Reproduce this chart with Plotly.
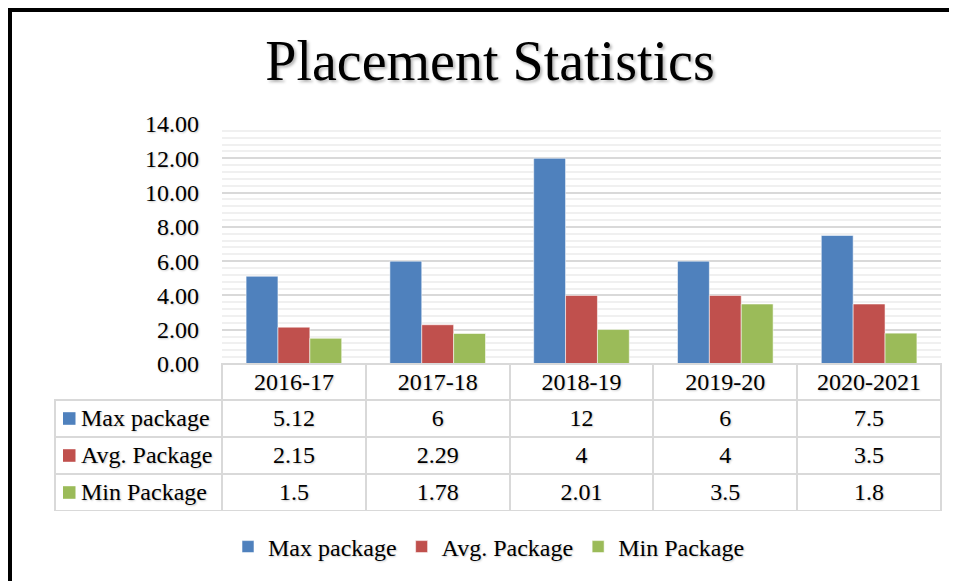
import plotly.graph_objects as go

years = ["2016-17", "2017-18", "2018-19", "2019-20", "2020-2021"]
series_names = ["Max package", "Avg. Package", "Min Package"]
max_package = [5.12, 6, 12, 6, 7.5]
avg_package = [2.15, 2.29, 4, 4, 3.5]
min_package = [1.5, 1.78, 2.01, 3.5, 1.8]
colors = ["#4F81BD", "#C0504D", "#9BBB59"]
y_ticks = [0, 2, 4, 6, 8, 10, 12, 14]

series_values = [max_package, avg_package, min_package]

# The page body adds an 8px margin, so the figure is 8px smaller
W, H = 949, 573
FONT = "Liberation Serif"
SHADOW = "1px 1px 2px rgba(0,0,0,0.22)"
GRID = "#D9D9D9"
CLEAR = "rgba(0,0,0,0)"


def fx(px):
    return px / W


def fy(py):
    return 1 - py / H


# layout boxes in figure pixels
PLOT_X = (214, 933)
PLOT_Y = (116, 356)
TABLE_X = (47, 933)
HEADER_H, ROW_H = 36, 37
TABLE_Y = (356, 356 + HEADER_H + ROW_H * len(series_names))

fig = go.Figure()
for name, vals, col in zip(series_names, series_values, colors):
    fig.add_trace(go.Bar(
        x=years, y=vals, name=name,
        marker=dict(color=col, line=dict(color="rgba(255,255,255,0.55)", width=1)),
    ))

# data table under the chart (non-breaking spaces keep each label on one line)
label_col = ["\u2002\u2005" + n.replace(" ", "\u00a0") for n in series_names]
value_cols = [[f"{s[i]:g}" for s in series_values] for i in range(len(years))]

fig.add_trace(go.Table(
    domain=dict(x=[fx(TABLE_X[0]), fx(TABLE_X[1])],
                y=[fy(TABLE_Y[1]), fy(TABLE_Y[0])]),
    columnwidth=[PLOT_X[0] - TABLE_X[0]] + [(PLOT_X[1] - PLOT_X[0]) / len(years)] * len(years),
    header=dict(
        values=[""] + years,
        height=HEADER_H,
        align="center",
        fill=dict(color=[CLEAR] + ["white"] * len(years)),
        line=dict(color=[CLEAR] + [GRID] * len(years), width=2),
        font=dict(family=FONT, size=24, color="black", shadow=SHADOW),
    ),
    cells=dict(
        values=[label_col] + value_cols,
        height=ROW_H,
        align=["left"] + ["center"] * len(years),
        fill=dict(color="white"),
        line=dict(color=GRID, width=2),
        font=dict(family=FONT, size=24, color="black", shadow=SHADOW),
    ),
))

# legend keys inside the table's first column
for i, col in enumerate(colors):
    cy = TABLE_Y[0] + HEADER_H + ROW_H * i + ROW_H / 2
    fig.add_shape(type="rect", xref="paper", yref="paper",
                  x0=fx(55), x1=fx(67.5), y0=fy(cy - 6.3), y1=fy(cy + 6.3),
                  fillcolor=col, line=dict(width=0))

# outer black frame (left and top edges)
fig.add_shape(type="line", xref="paper", yref="paper",
              x0=fx(2), x1=fx(2), y0=fy(0), y1=fy(H + 5),
              line=dict(color="black", width=4))
fig.add_shape(type="line", xref="paper", yref="paper",
              x0=fx(0), x1=fx(W + 5), y0=fy(2), y1=fy(2),
              line=dict(color="black", width=4))

fig.update_layout(
    width=W, height=H,
    margin=dict(l=0, r=0, t=0, b=0, autoexpand=False),
    paper_bgcolor="white", plot_bgcolor="white",
    font=dict(family=FONT, color="black"),
    title=dict(
        text="Placement Statistics",
        font=dict(family=FONT, size=56, color="black",
                  shadow="2px 2px 3px rgba(0,0,0,0.3)"),
        x=482 / W, xanchor="center", xref="container",
        y=1 - 52 / H, yanchor="middle", yref="container",
    ),
    barmode="group", bargap=0.335, bargroupgap=0,
    showlegend=True,
    legend=dict(
        orientation="h",
        xref="container", yref="container",
        x=220 / W, xanchor="left",
        y=1 - 539 / H, yanchor="middle",
        font=dict(family=FONT, size=24, color="black", shadow=SHADOW),
        itemwidth=30,
        traceorder="normal",
    ),
    xaxis=dict(
        domain=[fx(PLOT_X[0]), fx(PLOT_X[1])],
        type="category", showticklabels=False, showgrid=False,
        showline=False, zeroline=False, fixedrange=True, automargin=False,
    ),
    yaxis=dict(
        domain=[fy(PLOT_Y[1]), fy(PLOT_Y[0])],
        range=[0, 14], tickvals=y_ticks, tickformat=".2f",
        ticks="", ticklabelstandoff=22, automargin=False,
        tickfont=dict(family=FONT, size=24, color="black", shadow=SHADOW),
        showgrid=True, gridcolor=GRID, gridwidth=2,
        zeroline=True, zerolinecolor=GRID, zerolinewidth=2,
        showline=False,
        minor=dict(dtick=0.4, showgrid=True, gridcolor="#F0F0F0", gridwidth=2),
        fixedrange=True,
    ),
)

fig.write_html("out.html")
